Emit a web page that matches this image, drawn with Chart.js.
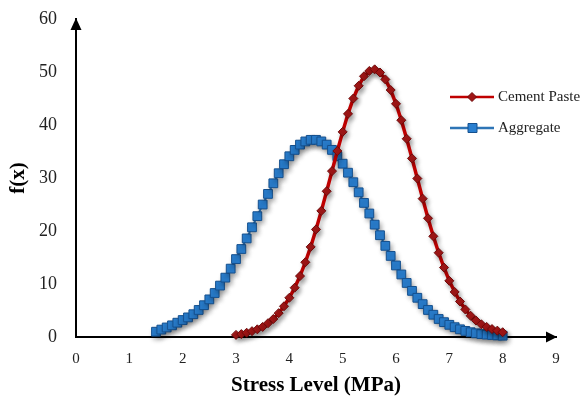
<!DOCTYPE html>
<html>
<head>
<meta charset="utf-8">
<script src="https://cdn.jsdelivr.net/npm/chart.js@4.4.0/dist/chart.umd.min.js"></script>
<style>
html, body { margin: 0; padding: 0; background: #fff; }
#wrap { width: 585px; height: 401px; }
</style>
</head>
<body>
<div id="wrap"><canvas id="lineChart"></canvas></div>
<script>
// values
var cementX = [3.0, 3.1, 3.2, 3.3, 3.4, 3.5, 3.6, 3.7, 3.8, 3.9,
    4.0, 4.1, 4.2, 4.3, 4.4, 4.5, 4.6, 4.7, 4.8, 4.9,
    5.0, 5.1, 5.2, 5.3, 5.4, 5.5, 5.6, 5.7, 5.8, 5.9,
    6.0, 6.1, 6.2, 6.3, 6.4, 6.5, 6.6, 6.7, 6.8, 6.9,
    7.0, 7.1, 7.2, 7.3, 7.4, 7.5, 7.6, 7.7, 7.8, 7.9, 8.0];
var cementY = [0.4, 0.55, 0.8, 1.1, 1.45, 1.9, 2.6, 3.4, 4.5, 5.8,
    7.4, 9.3, 11.5, 14.1, 17.0, 20.3, 23.8, 27.5, 31.3, 35.1,
    38.7, 42.1, 45.0, 47.4, 49.2, 50.2, 50.5, 49.9, 48.6, 46.6,
    44.0, 40.9, 37.4, 33.7, 29.9, 26.1, 22.4, 19.0, 15.9, 13.1,
    10.6, 8.5, 6.7, 5.2, 4.0, 3.1, 2.4, 1.9, 1.5, 1.2, 0.9];

var aggregateX = [1.5, 1.6, 1.7, 1.8, 1.9, 2.0, 2.1, 2.2, 2.3, 2.4,
    2.5, 2.6, 2.7, 2.8, 2.9, 3.0, 3.1, 3.2, 3.3, 3.4,
    3.5, 3.6, 3.7, 3.8, 3.9, 4.0, 4.1, 4.2, 4.3, 4.4,
    4.5, 4.6, 4.7, 4.8, 4.9, 5.0, 5.1, 5.2, 5.3, 5.4,
    5.5, 5.6, 5.7, 5.8, 5.9, 6.0, 6.1, 6.2, 6.3, 6.4,
    6.5, 6.6, 6.7, 6.8, 6.9, 7.0, 7.1, 7.2, 7.3, 7.4,
    7.5, 7.6, 7.7, 7.8, 7.9, 8.0];
var aggregateY = [1.0, 1.4, 1.8, 2.2, 2.7, 3.2, 3.7, 4.3, 5.1, 6.0,
    7.1, 8.3, 9.7, 11.2, 12.9, 14.7, 16.6, 18.6, 20.7, 22.8,
    25.0, 27.0, 29.0, 30.9, 32.6, 34.1, 35.3, 36.3, 36.9, 37.2,
    37.2, 36.9, 36.3, 35.3, 34.1, 32.7, 31.0, 29.2, 27.3, 25.3,
    23.3, 21.2, 19.2, 17.2, 15.3, 13.5, 11.8, 10.2, 8.7, 7.4,
    6.2, 5.1, 4.2, 3.4, 2.8, 2.3, 1.85, 1.45, 1.15, 0.9,
    0.7, 0.55, 0.45, 0.38, 0.3, 0.25];

var xTicks = [0, 1, 2, 3, 4, 5, 6, 7, 8, 9];
var yTicks = [0, 10, 20, 30, 40, 50, 60];

function toPoints(xs, ys) {
    return xs.map(function(x, i) { return { x: x, y: ys[i] }; });
}

var serif = "'Liberation Serif', 'DejaVu Serif', serif";

var curveShadow = {
    id: "curveShadow",
    beforeDatasetsDraw: function(chart) {
        var ctx = chart.ctx;
        ctx.save();
        ctx.shadowColor = "rgba(0,0,0,0.3)";
        ctx.shadowBlur = 5;
        ctx.shadowOffsetX = 2;
        ctx.shadowOffsetY = 3;
    },
    afterDatasetsDraw: function(chart) {
        chart.ctx.restore();
    }
};

var axisArrows = {
    id: "axisArrows",
    afterDraw: function(chart) {
        var ctx = chart.ctx, a = chart.chartArea;
        ctx.save();
        ctx.fillStyle = "#000";
        // y arrow
        ctx.beginPath();
        ctx.moveTo(a.left, a.top - 1);
        ctx.lineTo(a.left - 5.5, a.top + 11);
        ctx.lineTo(a.left + 5.5, a.top + 11);
        ctx.closePath();
        ctx.fill();
        // x arrow
        ctx.beginPath();
        ctx.moveTo(a.right + 1, a.bottom);
        ctx.lineTo(a.right - 10, a.bottom - 5.5);
        ctx.lineTo(a.right - 10, a.bottom + 5.5);
        ctx.closePath();
        ctx.fill();

        // legend
        var items = [
            { y: 97, ds: chart.data.datasets[0] },
            { y: 128, ds: chart.data.datasets[1] }
        ];
        ctx.font = "15px " + serif;
        ctx.textBaseline = "middle";
        items.forEach(function(it) {
            var ds = it.ds;
            ctx.strokeStyle = ds.borderColor;
            ctx.lineWidth = 2.5;
            ctx.beginPath();
            ctx.moveTo(450, it.y);
            ctx.lineTo(494, it.y);
            ctx.stroke();
            ctx.fillStyle = ds.pointBackgroundColor;
            ctx.strokeStyle = ds.pointBorderColor;
            ctx.lineWidth = 1;
            ctx.beginPath();
            if (ds.pointStyle === "rectRot") {
                ctx.moveTo(472, it.y - 4.5);
                ctx.lineTo(476.5, it.y);
                ctx.lineTo(472, it.y + 4.5);
                ctx.lineTo(467.5, it.y);
                ctx.closePath();
            } else {
                ctx.rect(468, it.y - 4.5, 9, 9);
            }
            ctx.fill();
            ctx.stroke();
            ctx.fillStyle = "#222";
            ctx.fillText(ds.label, 498, it.y);
        });
        ctx.restore();
    }
};

var ctx1 = document.getElementById("lineChart").getContext("2d");
var myChart = new Chart(ctx1, {
    type: "line",
    data: {
        datasets: [
            {
                label: "Cement Paste",
                data: toPoints(cementX, cementY),
                borderColor: "#c00000",
                backgroundColor: "#c00000",
                borderWidth: 3.5,
                pointStyle: "rectRot",
                pointRadius: 4.5,
                pointBackgroundColor: "#a01616",
                pointBorderColor: "#6e0a0a",
                pointBorderWidth: 1,
                tension: 0,
                clip: false
            },
            {
                label: "Aggregate",
                data: toPoints(aggregateX, aggregateY),
                borderColor: "#2e75b6",
                backgroundColor: "#2e75b6",
                borderWidth: 2,
                pointStyle: "rect",
                pointRadius: 6.2,
                pointBackgroundColor: "#2a7fd0",
                pointBorderColor: "#15508e",
                pointBorderWidth: 1,
                tension: 0,
                clip: false
            }
        ]
    },
    options: {
        responsive: true,
        maintainAspectRatio: false,
        animation: false,
        layout: { padding: { left: 0, top: 19, right: 29, bottom: 0 } },
        plugins: {
            legend: { display: false },
            tooltip: { enabled: false }
        },
        scales: {
            x: {
                type: "linear",
                min: 0,
                max: 9,
                afterBuildTicks: function(scale) {
                    scale.ticks = xTicks.map(function(v) { return { value: v }; });
                },
                afterFit: function(scale) { scale.height = 64; },
                ticks: {
                    color: "#222",
                    padding: 13,
                    font: { family: serif, size: 15 }
                },
                grid: { display: false, drawTicks: false },
                border: { display: true, color: "#000", width: 2 },
                title: {
                    display: true,
                    text: "Stress Level (MPa)",
                    color: "#000",
                    font: { family: serif, size: 21, weight: "bold" },
                    padding: { top: 0, bottom: 3 }
                }
            },
            y: {
                min: 0,
                max: 60,
                afterBuildTicks: function(scale) {
                    scale.ticks = yTicks.map(function(v) { return { value: v }; });
                },
                afterFit: function(scale) { scale.width = 76; scale.paddingTop = 0; },
                ticks: {
                    color: "#222",
                    padding: 19,
                    font: { family: serif, size: 18 }
                },
                grid: { display: false, drawTicks: false },
                border: { display: true, color: "#000", width: 2 },
                title: {
                    display: true,
                    text: "f(x)",
                    color: "#000",
                    font: { family: serif, size: 21, weight: "bold" },
                    padding: { top: 6, bottom: 0 }
                }
            }
        }
    },
    plugins: [curveShadow, axisArrows]
});
</script>
</body>
</html>
